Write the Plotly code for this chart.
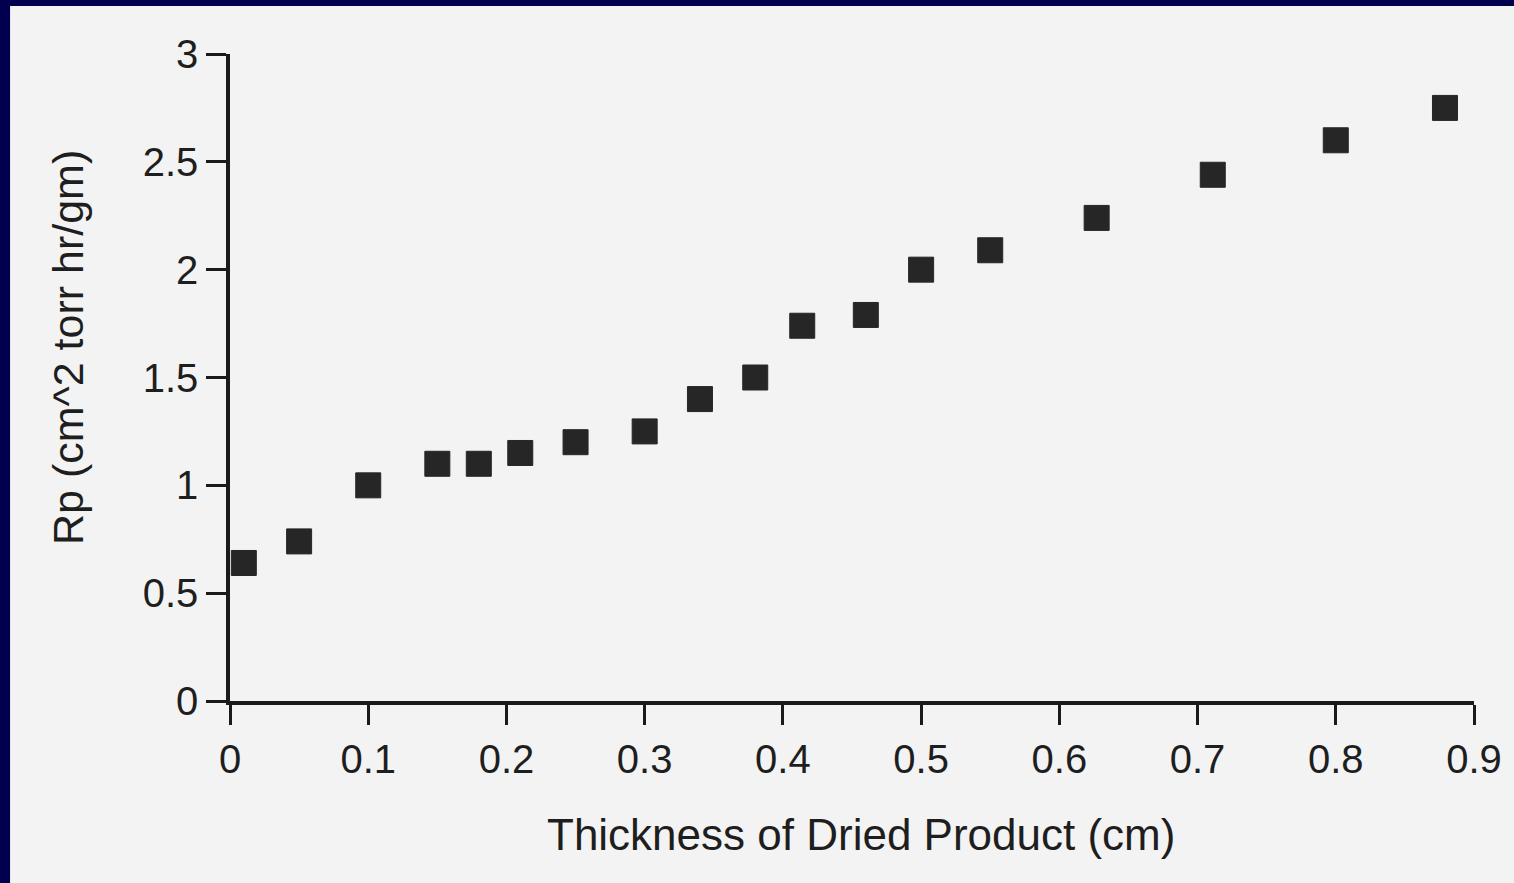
import plotly.graph_objects as go

thickness_cm = [0.01, 0.05, 0.10, 0.15, 0.18, 0.21, 0.25, 0.30, 0.34, 0.38,
                0.414, 0.46, 0.50, 0.55, 0.627, 0.711, 0.80, 0.879]
rp_values = [0.64, 0.74, 1.00, 1.10, 1.10, 1.15, 1.20, 1.25, 1.40, 1.50,
             1.74, 1.79, 2.00, 2.09, 2.24, 2.44, 2.60, 2.75]

x_ticks = [0, 0.1, 0.2, 0.3, 0.4, 0.5, 0.6, 0.7, 0.8, 0.9]
x_tick_labels = ["0", "0.1", "0.2", "0.3", "0.4", "0.5", "0.6", "0.7", "0.8", "0.9"]
y_ticks = [0, 0.5, 1, 1.5, 2, 2.5, 3]
y_tick_labels = ["0", "0.5", "1", "1.5", "2", "2.5", "3"]

x_title = "Thickness of Dried Product (cm)"
y_title = "Rp (cm^2 torr hr/gm)"

FONT = "Liberation Sans, Arial, Helvetica, sans-serif"
INK = "#1a1a1a"

fig = go.Figure()
fig.add_trace(go.Scatter(
    x=thickness_cm, y=rp_values, mode="markers",
    marker=dict(symbol="square", size=25, color="#262626",
                line=dict(width=1, color="#262626")),
    cliponaxis=False, showlegend=False, hoverinfo="x+y",
))

axis_common = dict(
    showline=True, linewidth=3.5, linecolor=INK,
    ticks="outside", ticklen=20, tickwidth=3, tickcolor=INK,
    showgrid=False, zeroline=False,
    tickfont=dict(family=FONT, size=40, color="#1e1e1e"),
)

fig.update_layout(
    width=1514, height=883,
    margin=dict(l=230, r=40, t=54, b=182),
    paper_bgcolor="#00004f",
    plot_bgcolor="rgba(0,0,0,0)",
    xaxis=dict(range=[0, 0.9], tickvals=x_ticks, ticktext=x_tick_labels, **axis_common),
    yaxis=dict(range=[0, 3], tickvals=y_ticks, ticktext=y_tick_labels, **axis_common),
    shapes=[dict(type="rect", xref="paper", yref="paper",
                 x0=-0.1768, x1=1.05, y0=-0.30, y1=1.0742,
                 fillcolor="#f3f3f3", line=dict(width=0), layer="below")],
    annotations=[
        dict(text=x_title, xref="paper", yref="paper", x=0.5072, y=-0.2071,
             xanchor="center", yanchor="middle", showarrow=False,
             font=dict(family=FONT, size=44, color="#1e1e1e")),
        dict(text=y_title, xref="paper", yref="paper", x=-0.1302, y=0.5456,
             xanchor="center", yanchor="middle", showarrow=False, textangle=-90,
             font=dict(family=FONT, size=43, color="#1e1e1e")),
    ],
)

fig.write_html("out.html")
